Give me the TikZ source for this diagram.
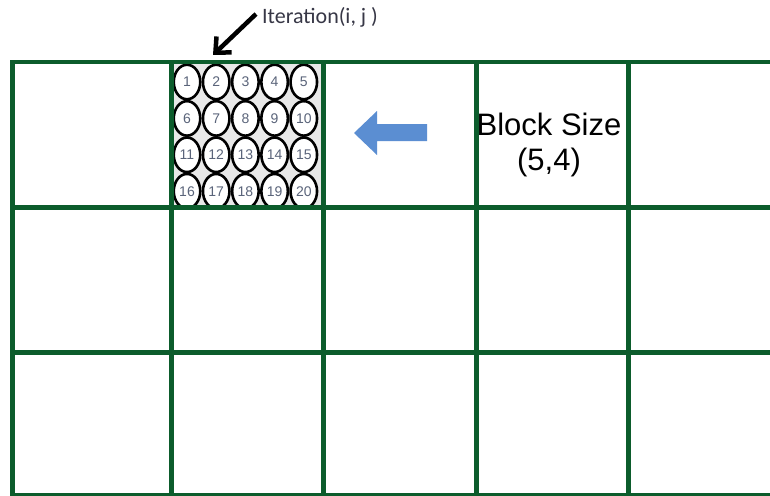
\documentclass[tikz,border=0pt]{standalone}
\usepackage{fontspec}
\setmainfont{Liberation Sans}
\newfontfamily\carl{Carlito}
\usetikzlibrary{shapes.geometric,arrows.meta}
\definecolor{gridgreen}{RGB}{12,92,44}
\definecolor{numcol}{RGB}{90,100,122}
\definecolor{itcol}{RGB}{55,55,70}
\definecolor{bluearr}{RGB}{91,142,210}
\definecolor{blockgray}{RGB}{232,232,232}
\tikzset{
  gridline/.style={draw=gridgreen, line width=5pt},
  ell/.style={ellipse, draw=black, fill=white, line width=2.6pt, minimum width=26.5pt,
    minimum height=34.5pt, inner sep=0pt, text=numcol,
    font=\fontsize{14}{15}\selectfont},
  bigtext/.style={font=\fontsize{31}{35}\selectfont, align=center, text=black},
  ittext/.style={font=\carl\fontsize{22}{24}\selectfont, text=itcol, anchor=west, inner sep=0pt}
}
\begin{document}
\begin{tikzpicture}[x=1pt,y=-1pt]
\useasboundingbox (0,0) rectangle (770,495);
\fill[white] (0,0) rectangle (770,495);
% shaded block
\fill[blockgray] (173,64) rectangle (321,206);
% circles
\foreach \r in {0,...,3} {
  \foreach \c in {0,...,4} {
    \pgfmathtruncatemacro{\n}{\r*5+\c+1}
    \node[ell] (c\n) at ({187+29.2*\c},{82+36.4*\r}) {\n};
  }
}
% grid
\draw[draw=gridgreen, line width=3.5pt] (10,62) -- (770,62);
\draw[gridline] (10,207) -- (770,207);
\draw[gridline] (10,352) -- (770,352);
\draw[draw=gridgreen, line width=3pt] (10,494) -- (770,494);
\foreach \x in {12,171,323,476,628} {
  \draw[gridline] (\x,60.5) -- (\x,495);
}
% label + arrow
\node[ittext] (it) at (262,17) {Iteration(i, j )};
\coordinate (arrS) at (256,14);
\coordinate (arrE) at (213,55);
\draw[line width=4.5pt, -{Straight Barb[length=12pt,width=22pt,line width=4.5pt]}] (arrS) -- (arrE);
% blue arrow
\fill[bluearr] (354,133) -- (377,111) -- (377,124) -- (427,124) -- (427,141)
  -- (377,141) -- (377,155) -- cycle;
% block size
\node[bigtext] (bs) at (549,145) {Block Size\\(5,4)};
\end{tikzpicture}
\end{document}
